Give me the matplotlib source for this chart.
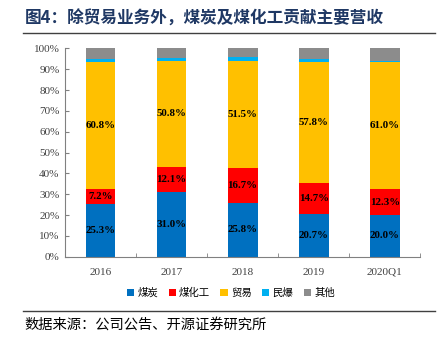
import matplotlib
matplotlib.use("Agg")
import matplotlib.pyplot as plt
import numpy as np
from matplotlib.patches import Patch
from matplotlib.lines import Line2D

categories = ["2016", "2017", "2018", "2019", "2020Q1"]
series_names = ["煤炭", "煤化工", "贸易", "民爆", "其他"]
coal = [25.3, 31.0, 25.8, 20.7, 20.0]
coal_chem = [7.2, 12.1, 16.7, 14.7, 12.3]
trade = [60.8, 50.8, 51.5, 57.8, 61.0]
explosives = [1.6, 1.3, 1.6, 1.5, 0.7]
other = [5.1, 4.8, 4.4, 5.3, 6.0]
colors = ["#0070C0", "#FF0000", "#FFC000", "#00B0F0", "#8C8C8C"]
yticks = [0, 10, 20, 30, 40, 50, 60, 70, 80, 90, 100]

CJK = ["Noto Sans CJK SC", "DejaVu Sans"]
SERIF = ["Liberation Serif", "DejaVu Serif"]

fig = plt.figure(figsize=(4.44, 3.58), dpi=100)
ax = fig.add_axes([0.1464, 0.283, 0.80, 0.582])

data = [coal, coal_chem, trade, explosives, other]
x = np.arange(len(categories))
bottom = np.zeros(len(categories))
for i, (vals, c) in enumerate(zip(data, colors)):
    vals = np.array(vals)
    ax.bar(x, vals, width=0.42, bottom=bottom, color=c, edgecolor="none", zorder=2)
    if i < 3:
        for xi, b, v in zip(x, bottom, vals):
            ax.text(xi, b + v / 2, f"{v:.1f}%", ha="center", va="center",
                    fontsize=7.8, fontweight="bold", family=SERIF, color="#000000", zorder=3)
    bottom += vals

ax.set_xlim(-0.5, len(categories) - 0.5)
ax.set_ylim(0, 100)
ax.set_yticks(yticks)
ax.set_yticklabels([f"{t}%" for t in yticks], family=SERIF, fontsize=8, color="#404040")
ax.set_xticks(x)
ax.set_xticklabels(categories, family=SERIF, fontsize=8, color="#404040")
ax.set_xticks(np.arange(-0.5, len(categories)), minor=True)
ax.tick_params(axis="x", which="major", length=0, pad=8)
ax.tick_params(axis="x", which="minor", length=3, direction="in", color="#808080")
ax.tick_params(axis="y", length=3, direction="in", color="#808080", pad=4)
for s in ["top", "right"]:
    ax.spines[s].set_visible(False)
for s in ["left", "bottom"]:
    ax.spines[s].set_color("#808080")
    ax.spines[s].set_linewidth(0.8)

handles = [Patch(facecolor=c, edgecolor="none") for c in colors]
fig.legend(handles, series_names, loc="center", bbox_to_anchor=(0.52, 0.182), ncol=5,
           frameon=False, prop={"family": CJK, "size": 7.5}, handlelength=0.7,
           handleheight=0.7, handletextpad=0.3, columnspacing=1.0)

fig.text(0.056, 0.948, "图4：除贸易业务外，煤炭及煤化工贡献主要营收", family=CJK,
         fontsize=12, fontweight="bold", color="#1F3864", ha="left", va="center")
fig.add_artist(Line2D([0.052, 0.98], [0.908, 0.908], color="#404040", linewidth=1.0,
                      transform=fig.transFigure))
fig.add_artist(Line2D([0.052, 0.98], [0.131, 0.131], color="#404040", linewidth=1.0,
                      transform=fig.transFigure))
fig.text(0.054, 0.092, "数据来源：公司公告、开源证券研究所", family=CJK, fontsize=10.3,
         color="#000000", ha="left", va="center")

fig.savefig("out.png", dpi=100)
